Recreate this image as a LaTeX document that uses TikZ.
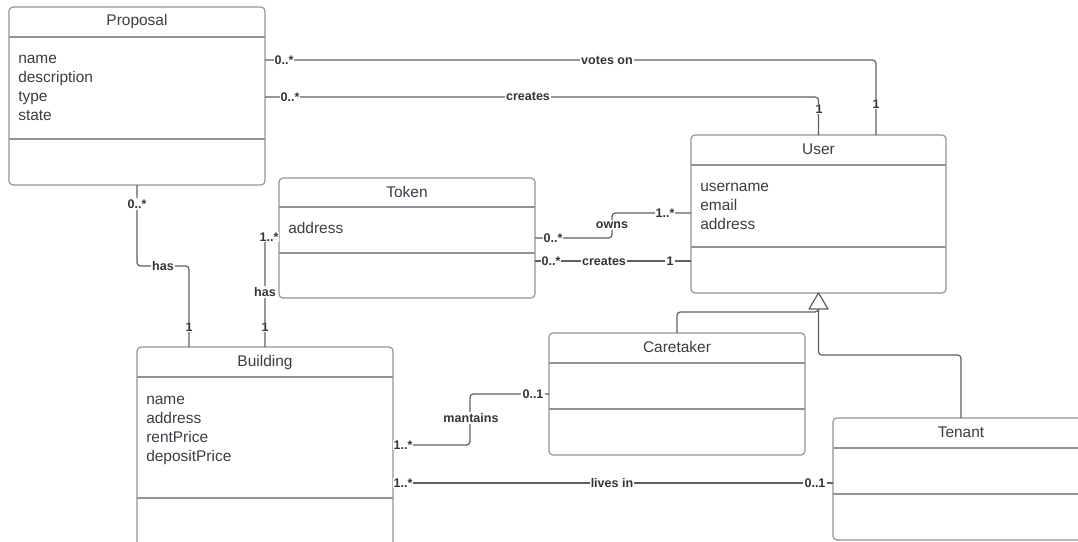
\documentclass[tikz,border=0pt]{standalone}
\usepackage{fontspec}
\setmainfont{Liberation Sans}
\usetikzlibrary{calc}
\definecolor{ink}{HTML}{3A3F47}
\definecolor{edge}{HTML}{8F959D}
\definecolor{wire}{HTML}{5B6068}

\begin{document}
\begin{tikzpicture}[x=0.75pt,y=-0.75pt,
  classbox/.style={draw=edge, line width=0.9pt, rounded corners=3pt, fill=white,
    anchor=north west, inner sep=0pt, outer sep=0pt, minimum width=192pt},
  title/.style={text=ink, font=\fontsize{11.6}{13}\selectfont, anchor=base, inner sep=0pt},
  attr/.style={text=ink, font=\fontsize{11.6}{13}\selectfont, anchor=base west, inner sep=0pt},
  rule/.style={draw=edge, line width=0.9pt},
  wire/.style={draw=wire, line width=0.9pt, rounded corners=2.5pt},
  lbl/.style={text=ink!85!black, font=\bfseries\fontsize{9.4}{11}\selectfont, fill=white, inner sep=0.8pt},
]
\useasboundingbox (0,0) rectangle (1078,542);
\clip (0,0) rectangle (1078,542);

% class boxes
\node[classbox, minimum height=133.5pt] (prop) at (9,7) {};
\node[classbox, minimum height=90pt]    (tok)  at (279,178) {};
\node[classbox, minimum height=118.5pt, minimum width=191.25pt] (user) at (691,135) {};
\node[classbox, minimum height=91.5pt]  (care) at (549,333) {};
\node[classbox, minimum height=91.5pt]  (ten)  at (833,418) {};
\node[classbox, minimum height=160pt]   (bldg) at (137,347) {};

% compartment rules
\draw[rule] (prop.west |- 0,37)  -- (prop.east |- 0,37);
\draw[rule] (prop.west |- 0,139) -- (prop.east |- 0,139);
\draw[rule] (tok.west |- 0,207)  -- (tok.east |- 0,207);
\draw[rule] (tok.west |- 0,253)  -- (tok.east |- 0,253);
\draw[rule] (user.west |- 0,165) -- (user.east |- 0,165);
\draw[rule] (user.west |- 0,247) -- (user.east |- 0,247);
\draw[rule] (care.west |- 0,363) -- (care.east |- 0,363);
\draw[rule] (care.west |- 0,409) -- (care.east |- 0,409);
\draw[rule] (ten.west |- 0,448)  -- (ten.east |- 0,448);
\draw[rule] (ten.west |- 0,494)  -- (ten.east |- 0,494);
\draw[rule] (bldg.west |- 0,377) -- (bldg.east |- 0,377);
\draw[rule] (bldg.west |- 0,498) -- (bldg.east |- 0,498);

% titles
\node[title] (propT) at (prop.north |- 0,26)  {Proposal};
\node[title] (tokT)  at (tok.north |- 0,197)  {Token};
\node[title] (userT) at (user.north |- 0,154) {User};
\node[title] (careT) at (care.north |- 0,352) {Caretaker};
\node[title] (tenT)  at (ten.north |- 0,437)  {Tenant};
\node[title] (bldgT) at (bldg.north |- 0,366) {Building};

% attributes
\node[attr] (pa1) at (18,64)  {name};
\node[attr] (pa2) at (18,83)  {description};
\node[attr] (pa3) at (18,102) {type};
\node[attr] (pa4) at (18,121) {state};
\node[attr] (ta1) at (288,233.5) {address};
\node[attr] (ua1) at (700,191.5) {username};
\node[attr] (ua2) at (700,210.5) {email};
\node[attr] (ua3) at (700,229.5) {address};
\node[attr] (ba1) at (146,404.5) {name};
\node[attr] (ba2) at (146,423.5) {address};
\node[attr] (ba3) at (146,442.5) {rentPrice};
\node[attr] (ba4) at (146,461.5) {depositPrice};

% associations
\draw[wire] (prop.east |- 0,60) -| ($(user.north)+(57.5,0)$);
\draw[wire] (prop.east |- 0,97) -| (user.north);
\draw[wire] (prop.south) -- ++(0,81) -| ($(bldg.north west)+(52,0)$);
\draw[wire] (tok.west |- 0,237) -| (bldg.north);
\draw[wire] (tok.east |- 0,238) -- (612,238) -- (612,213) -- (user.west |- 0,213);
\draw[wire] (tok.east |- 0,261) -- (user.west |- 0,261);
\draw[wire] (bldg.east |- 0,445) -- (470,445) -- (470,394) -- (care.west |- 0,394);
\draw[wire] (bldg.east |- 0,483) -- (ten.west |- 0,483);

% generalization
\coordinate (gen) at ($(user.south)+(0,16)$);
\draw[wire] (care.north) |- ($(gen)+(0,3)$) -- (gen);
\draw[wire] (gen) -- ++(0,46) -| (ten.north);
\draw[draw=wire, line width=0.9pt, fill=white, line join=round]
  (user.south) -- ($(gen)+(-9.5,0)$) -- ($(gen)+(9.5,0)$) -- cycle;

% association labels
\node[lbl] (v0) at (284,60)  {0..*};
\node[lbl] (v1) at (607,60)  {votes on};
\node[lbl] (v2) at (876,104) {1};
\node[lbl] (c0) at (290,97)  {0..*};
\node[lbl] (c1) at (528,96)  {creates};
\node[lbl] (c2) at (819,109) {1};
\node[lbl] (h0) at (137,204) {0..*};
\node[lbl] (h1) at (163,266) {has};
\node[lbl] (h2) at (189,327) {1};
\node[lbl] (k0) at (269,237) {1..*};
\node[lbl] (k1) at (265,292) {has};
\node[lbl] (k2) at (265,327) {1};
\node[lbl] (o0) at (553,238) {0..*};
\node[lbl] (o1) at (612,225) {owns};
\node[lbl] (o2) at (665,213) {1..*};
\node[lbl] (t0) at (551,261) {0..*};
\node[lbl] (t1) at (604,261) {creates};
\node[lbl] (t2) at (670,261) {1};
\node[lbl] (m0) at (403,445) {1..*};
\node[lbl] (m1) at (471,418) {mantains};
\node[lbl] (m2) at (533,394) {0..1};
\node[lbl] (l0) at (403,483) {1..*};
\node[lbl] (l1) at (612,483) {lives in};
\node[lbl] (l2) at (815,483) {0..1};
\end{tikzpicture}
\end{document}
